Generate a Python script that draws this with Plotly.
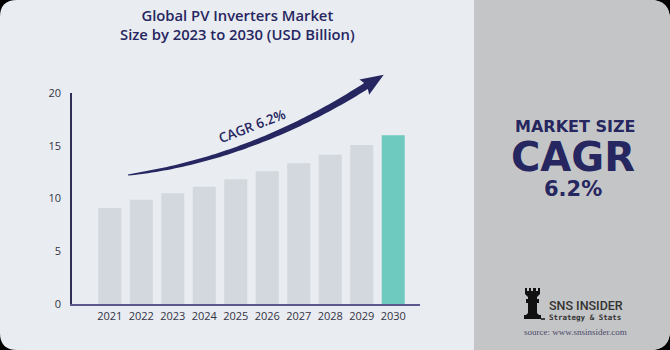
import numpy as np
import plotly.graph_objects as go

years = ["2021", "2022", "2023", "2024", "2025", "2026", "2027", "2028", "2029", "2030"]
values = [9.1, 9.88, 10.49, 11.12, 11.82, 12.58, 13.34, 14.15, 15.07, 15.99]
y_ticks = [0, 5, 10, 15, 20]
label_2022 = "9.88"
label_2030 = "15.99(BN)"
cagr_text = "CAGR 6.2%"

W, H = 670, 350
NAVY = "#262660"
BG = "#e9ecf1"
PANEL = "#c4c5c6"


def px(x):
    return x / W


def py(y):
    return 1 - y / H


def rounded_rect(x0, y0, x1, y1, rtl, rtr, rbr, rbl):
    p = f"M {px(x0 + rtl)},{py(y0)} L {px(x1 - rtr)},{py(y0)} "
    p += f"Q {px(x1)},{py(y0)} {px(x1)},{py(y0 + rtr)} " if rtr else ""
    p += f"L {px(x1)},{py(y1 - rbr)} "
    p += f"Q {px(x1)},{py(y1)} {px(x1 - rbr)},{py(y1)} " if rbr else ""
    p += f"L {px(x0 + rbl)},{py(y1)} "
    p += f"Q {px(x0)},{py(y1)} {px(x0)},{py(y1 - rbl)} " if rbl else ""
    p += f"L {px(x0)},{py(y0 + rtl)} "
    p += f"Q {px(x0)},{py(y0)} {px(x0 + rtl)},{py(y0)} " if rtl else ""
    return p + "Z"


colors = ["#d2d8dd"] * (len(years) - 1) + ["#6ec9bf"]

fig = go.Figure()
fig.add_trace(go.Bar(x=years, y=values, marker=dict(color=colors, line=dict(width=0)),
                     hoverinfo="skip"))

shapes = []
shapes.append(dict(type="path", path=rounded_rect(0, 0, W, H, 17, 20, 20, 17),
                   xref="paper", yref="paper", fillcolor=BG, line=dict(width=0), layer="below"))
shapes.append(dict(type="path", path=rounded_rect(474, 0, W, H, 0, 20, 20, 0),
                   xref="paper", yref="paper", fillcolor=PANEL, line=dict(width=0), layer="below"))

# curved arrow (decoration)
P0 = np.array([128.0, 175.0])
C1 = np.array([220.0, 163.0])
C2 = np.array([300.0, 128.0])
P3 = np.array([366.0, 86.0])
ts = np.linspace(0, 1, 70)
pts = np.array([(1 - t) ** 3 * P0 + 3 * (1 - t) ** 2 * t * C1 + 3 * (1 - t) * t ** 2 * C2 + t ** 3 * P3 for t in ts])
der = np.array([3 * (1 - t) ** 2 * (C1 - P0) + 6 * (1 - t) * t * (C2 - C1) + 3 * t ** 2 * (P3 - C2) for t in ts])
nrm = np.array([[-d[1], d[0]] / np.hypot(*d) for d in der])
halfw = 0.5 + 3.0 * ts ** 0.55
up = pts + nrm * halfw[:, None]
dn = pts - nrm * halfw[:, None]
tang = der[-1] / np.hypot(*der[-1])
n_end = nrm[-1]
tip = P3 + tang * 21
h1 = P3 + n_end * 9 - tang * 2
h2 = P3 - n_end * 9 - tang * 2
poly = list(up) + [h1, tip, h2] + list(dn[::-1])
path = "M " + " L ".join(f"{px(x)},{py(y)}" for x, y in poly) + " Z"
shapes.append(dict(type="path", path=path, xref="paper", yref="paper",
                   fillcolor=NAVY, line=dict(width=0)))

# simple rook logo
rook = [(529, 288), (531, 288), (531, 291), (533, 291), (533, 288), (536, 288), (536, 291), (538, 291),
        (538, 288), (540, 288), (540, 294), (537, 297), (537, 299), (539, 299), (539, 303), (537, 303),
        (537, 313), (539, 315), (541, 315), (541, 319), (524, 319), (524, 315), (526, 315), (528, 313),
        (528, 303), (526, 303), (526, 299), (528, 299), (528, 297), (525, 294), (525, 288), (527, 288),
        (527, 291), (529, 291)]
rpath = "M " + " L ".join(f"{px(x)},{py(y)}" for x, y in rook) + " Z"
shapes.append(dict(type="path", path=rpath, xref="paper", yref="paper",
                   fillcolor="#111111", line=dict(width=0)))
shapes.append(dict(type="line", x0=px(541), x1=px(545), y0=py(319), y1=py(319), xref="paper", yref="paper",
                   line=dict(color="#111111", width=1.5)))


def txt(text, x, y, size, family, color=NAVY, weight="normal", xanchor="center", angle=0):
    return dict(text=text, x=px(x), y=py(y), xref="paper", yref="paper", showarrow=False,
                xanchor=xanchor, yanchor="middle", textangle=angle,
                font=dict(family=family, size=size, color=color, weight=weight))


ann = []
ann.append(dict(txt("Global PV Inverters Market<br>Size by 2023 to 2030 (USD Billion)", 237, 24, 14.8,
                    "Open Sans", weight=600), align="center"))
ann.append(dict(text=label_2022, x=years[1], y=values[1], xref="x", yref="y", yanchor="bottom",
                xanchor="center", yshift=6, showarrow=False,
                font=dict(family="Open Sans", size=10.5, color="#3a3a4a")))
ann.append(dict(text=label_2030, x=years[-1], y=values[-1], xref="x", yref="y", yanchor="bottom",
                xanchor="center", yshift=6, xshift=13, showarrow=False,
                font=dict(family="Open Sans", size=10.5, color="#3a3a4a")))
ann.append(txt(cagr_text, 252, 126, 13.5, "Open Sans", weight=600, angle=-21))
ann.append(txt("MARKET SIZE", 575, 126, 16, "DejaVu Sans", weight="bold"))
ann.append(txt("CAGR", 573, 157, 40, "DejaVu Sans", weight="bold"))
ann.append(txt("6.2%", 573, 189, 21, "DejaVu Sans", weight="bold"))
ann.append(txt("SNS INSIDER", 547, 305, 12.5, "Roboto", color="#333333", weight=500, xanchor="left"))
ann.append(txt("Strategy & Stats", 547, 317, 7.5, "DejaVu Sans Mono", color="#333333", weight="bold",
               xanchor="left"))
ann.append(txt("source: www.snsinsider.com", 575, 332, 9, "Liberation Serif", color="#4a4a6a"))

fig.update_layout(
    width=W, height=H, autosize=False,
    margin=dict(l=0, r=0, t=0, b=0, pad=0, autoexpand=False),
    paper_bgcolor="#000000", plot_bgcolor="rgba(0,0,0,0)",
    showlegend=False, bargap=0.27,
    shapes=shapes, annotations=ann,
    xaxis=dict(domain=[px(72), px(420)], type="category", range=[-1.2, 9.85], automargin=False,
               showline=True, linecolor="#5c5a8c", linewidth=1.5, ticks="", showgrid=False,
               tickfont=dict(family="Open Sans", size=11, color="#333344"), ticklabelstandoff=1,
               fixedrange=True),
    yaxis=dict(domain=[1 - 304 / H, 1 - 93 / H], range=[0, 20], tickvals=y_ticks, automargin=False,
               showline=True, linecolor="#2f2f55", linewidth=1.5, ticks="", showgrid=False, zeroline=False,
               tickfont=dict(family="Open Sans", size=11, color="#333344"), ticklabelstandoff=7,
               fixedrange=True),
)

fig.write_html("out.html", config={"displayModeBar": False})
